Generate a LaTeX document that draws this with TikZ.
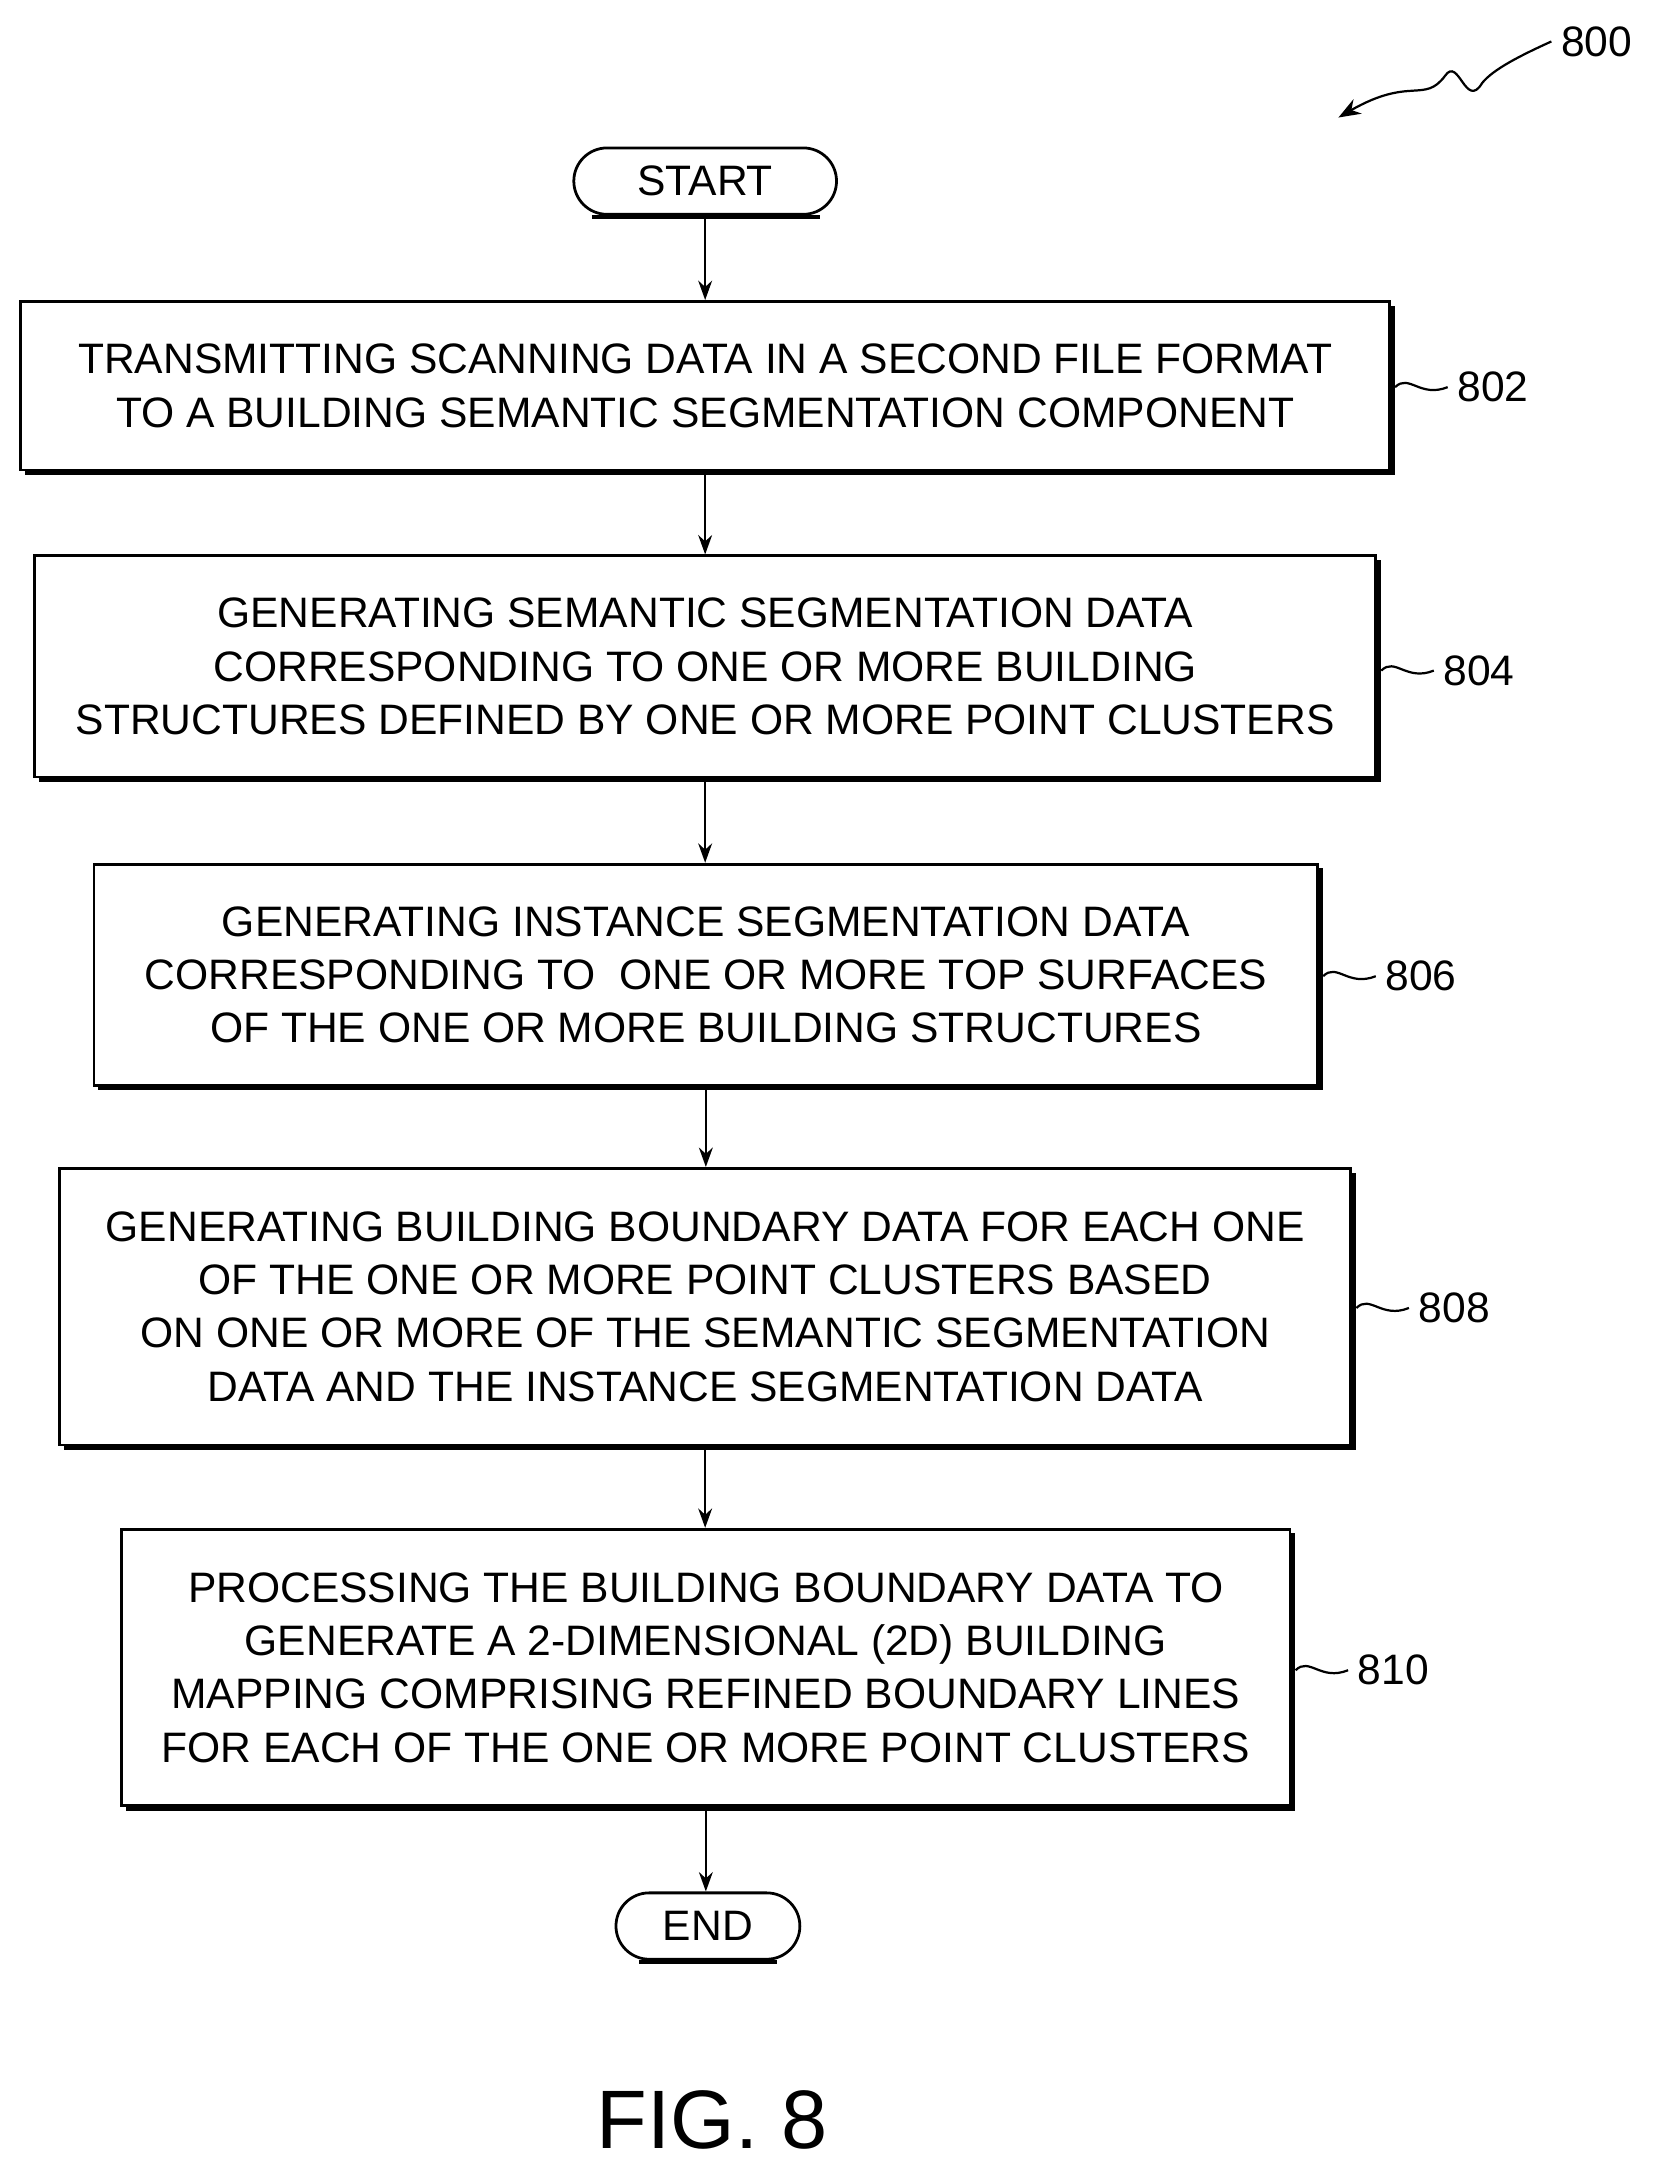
\documentclass[tikz,border=0pt]{standalone}
\usepackage{fontspec}
\setmainfont{Liberation Sans}
\usetikzlibrary{arrows.meta,decorations.pathmorphing}
\begin{document}
\begin{tikzpicture}[x=0.5pt,y=-0.5pt,
  box/.style={draw,line width=1pt,align=center,font=\fontsize{15.4}{19.3}\selectfont,inner sep=0pt},
  term/.style={draw,line width=1pt,rounded corners=12pt,font=\fontsize{15.4}{19}\selectfont,inner sep=0pt},
  arr/.style={-{Stealth[length=7pt,width=5pt]},line width=0.9pt},
  lab/.style={font=\fontsize{15.4}{19}\selectfont,anchor=west},
  sq/.style={line width=0.8pt}]
\useasboundingbox (0,0) rectangle (1200,1568);
\newcommand{\bx}[6]{% name, x1,y1,x2,y2, text
  \draw[line width=1.6pt] (#2+3,#5+2) -- (#4+2,#5+2) -- (#4+2,#3+3);
  \node[box,minimum width={(#4-#2)*0.5pt},minimum height={(#5-#3)*0.5pt}] (#1) at ({(#2+#4)/2},{(#3+#5)/2}) {#6};}
\node[term,minimum width=95pt,minimum height=24pt] (start) at (510,131) {START};
\draw[line width=1.6pt] (428,157) -- (593,157);
\bx{b802}{15}{218}{1005}{340}{TRANSMITTING SCANNING DATA IN A SECOND FILE FORMAT\\TO A BUILDING SEMANTIC SEGMENTATION COMPONENT}
\bx{b804}{25}{402}{995}{562}{GENERATING SEMANTIC SEGMENTATION DATA\\CORRESPONDING TO ONE OR MORE BUILDING\\STRUCTURES DEFINED BY ONE OR MORE POINT CLUSTERS}
\bx{b806}{68}{625}{953}{785}{GENERATING INSTANCE SEGMENTATION DATA\\CORRESPONDING TO\ \ ONE OR MORE TOP SURFACES\\OF THE ONE OR MORE BUILDING STRUCTURES}
\bx{b808}{43}{845}{977}{1045}{GENERATING BUILDING BOUNDARY DATA FOR EACH ONE\\OF THE ONE OR MORE POINT CLUSTERS BASED\\ON ONE OR MORE OF THE SEMANTIC SEGMENTATION\\DATA AND THE INSTANCE SEGMENTATION DATA}
\bx{b810}{88}{1106}{933}{1306}{PROCESSING THE BUILDING BOUNDARY DATA TO\\GENERATE A 2-DIMENSIONAL (2D) BUILDING\\MAPPING COMPRISING REFINED BOUNDARY LINES\\FOR EACH OF THE ONE OR MORE POINT CLUSTERS}
\node[term,minimum width=66.5pt,minimum height=24pt] (end) at (512,1393) {END};
\draw[line width=1.6pt] (462,1419) -- (562,1419);
\draw[arr] (start.south) -- (start.south |- b802.north);
\draw[arr] (b802.south) -- (b802.south |- b804.north);
\draw[arr] (b804.south) -- (b804.south |- b806.north);
\draw[arr] (b806.south) -- (b806.south |- b808.north);
\draw[arr] (b808.south) -- (b808.south |- b810.north);
\draw[arr] (b810.south) -- (b810.south |- end.north);
\foreach \n/\x/\y in {802/1005/280,804/995/485,806/953/706,808/977/946,810/933/1208}{
  \node[lab] (l\n) at (\x+42,\y) {\n};
  \draw[sq] (\x+4,\y) .. controls (\x+14,\y-10) and (\x+22,\y+8) .. (l\n.west);
}
\node[lab] (l800) at (1122,30) {800};
\coordinate (t800) at (968,85);
\draw[sq,-{Stealth[length=8pt,width=6pt]}] (l800.west) .. controls (1100,40) and (1080,50) .. (1072,60)
  .. controls (1060,80) and (1055,40) .. (1045,55) .. controls (1030,75) and (1020,55) .. (t800);
\node[font=\fontsize{30}{36}\selectfont] (fig) at (515,1533) {FIG. 8};
\end{tikzpicture}
\end{document}
